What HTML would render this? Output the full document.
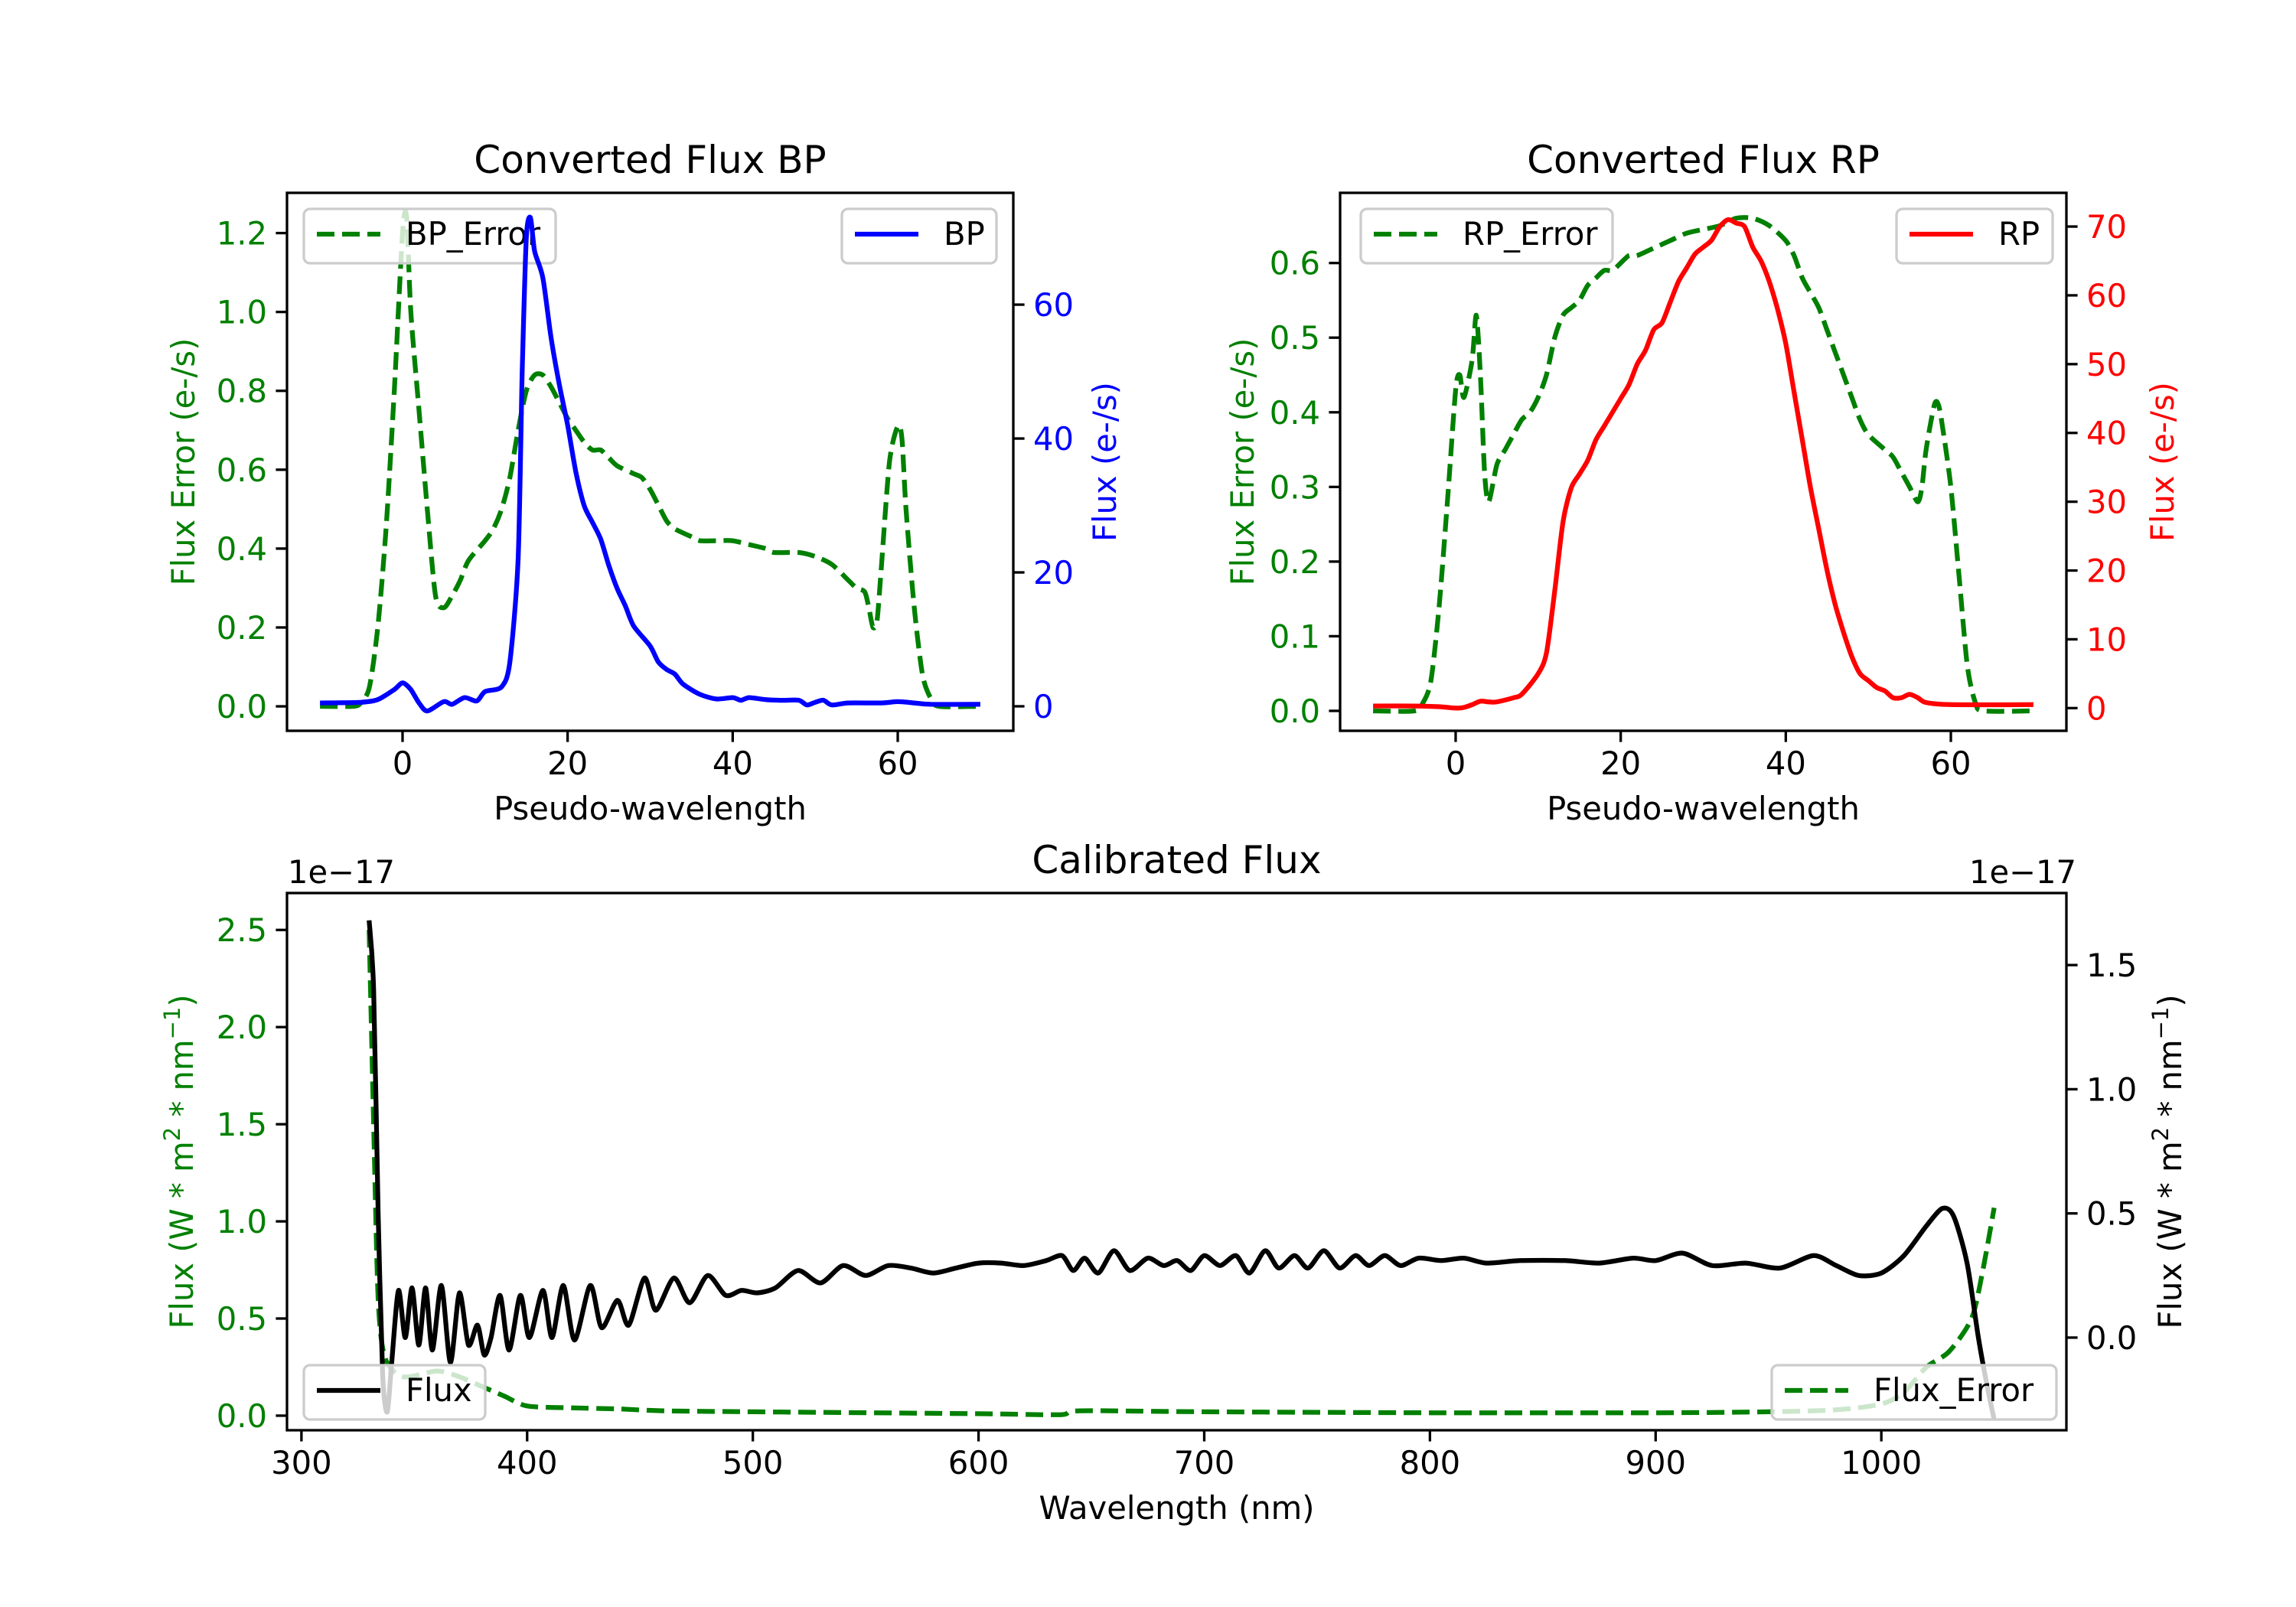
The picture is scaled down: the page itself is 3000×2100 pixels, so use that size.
<!DOCTYPE html>
<html><head><meta charset="utf-8"><style>
html,body{margin:0;padding:0;background:#fff}
svg{display:block}
text{font-family:"DejaVu Sans","Liberation Sans",sans-serif}
</style></head><body>
<svg id="fig" xmlns="http://www.w3.org/2000/svg" width="3000" height="2100" viewBox="0 0 3000 2100"></svg>
<script>
// ---------- DATA ----------
const bpX = [-10,-5,-3,-1,0,1,2,3,5,6,7.5,9,10,12,13,14,14.5,15,15.5,16,17,18,19,20,21,22,23,24,25,26,27,28,30,31,32,33,34,36,38,40,41,42,44,46,48,49,50,51,52,54,58,60,62,64,70];
const bpFlux = [0.5,0.6,1,2.5,3.5,2.5,0.5,-0.7,0.7,0.3,1.3,0.8,2.2,2.9,6.6,22,50,70,73,68,64,55,48,42,35,30,27.5,25,21,17.6,15,12,9,6.6,5.5,4.8,3.3,1.8,1.1,1.3,0.9,1.3,1.0,0.9,0.9,0.2,0.6,0.9,0.2,0.5,0.5,0.7,0.5,0.3,0.3];
const bpErrX = [-10,-6,-5,-4,-3,-2,-1,0,0.5,1,2,3,4,5,6,7,8,10,11,12,13,14,15,16,17,18,19,20,21,22,23,24,25,26,28,29,30,31,32,33,35,36,38,40,42,44,45,48,50,52,54,55,56,56.5,57,57.5,58,59,60,60.5,61,62,63,64,65,70];
const bpErr = [0,0,0.01,0.05,0.2,0.45,0.8,1.2,1.24,1.0,0.75,0.5,0.28,0.25,0.28,0.32,0.37,0.42,0.45,0.5,0.58,0.7,0.8,0.84,0.84,0.81,0.77,0.73,0.70,0.67,0.65,0.65,0.63,0.61,0.59,0.58,0.55,0.51,0.47,0.45,0.43,0.42,0.42,0.42,0.41,0.40,0.39,0.39,0.38,0.36,0.32,0.30,0.29,0.25,0.20,0.22,0.35,0.62,0.71,0.68,0.5,0.25,0.08,0.02,0,0];
const rpX = [-10,-5,-2,0,1,2,3,4,5,7,8,10,11,12,13,14,15,16,17,18,19,20,21,22,23,24,25,26,27,28,29,30,31,32,33,34,35,36,37,38,39,40,41,42,43,44,45,46,47,48,49,50,51,52,53,54,55,56,57,60,70];
const rpFlux = [0.3,0.3,0.2,0,0.1,0.5,1,0.9,0.9,1.5,2,5,8,17,27,32,34,36,39,41,43,45,47,50,52,55,56,59,62,64,66,67,68,70,71,70.5,70,67,65,62,58,53,46,39,32,26,20,15,11,7.5,5,4,3,2.5,1.5,1.5,2,1.5,0.8,0.5,0.5];
const rpErrX = [-10,-5,-4,-3,-2,-1,0,0.5,1,2,2.5,3,3.5,4,5,6,7,8,9,10,11,12,13,14,15,16,17,18,19,20,21,22,24,26,28,30,32,34,36,38,40,41,42,43,44,45,46,47,48,49,50,52,53,54,55,56,56.5,57,58,58.5,59,60,61,62,63,64,70];
const rpErr = [0,0,0.01,0.04,0.14,0.28,0.43,0.45,0.42,0.47,0.53,0.45,0.32,0.28,0.33,0.35,0.37,0.39,0.40,0.42,0.45,0.5,0.53,0.54,0.55,0.57,0.58,0.59,0.59,0.60,0.61,0.61,0.62,0.63,0.64,0.645,0.65,0.66,0.66,0.65,0.63,0.61,0.58,0.56,0.54,0.51,0.48,0.45,0.42,0.39,0.37,0.35,0.34,0.32,0.30,0.28,0.30,0.35,0.41,0.41,0.38,0.30,0.18,0.06,0.01,0,0];
const calX = [330,332,334,336,338,340,343,346,349,352,355,358,362,366,370,374,378,381,384,388,392,397,401,407,411,416,421,428,433,440,445,452,457,465,472,480,488,495,502,510,520,530,540,550,560,570,580,590,600,610,620,630,637,642,647,653,660,667,675,682,688,694,700,707,714,720,727,733,740,746,753,760,767,773,780,787,795,805,815,825,840,860,875,890,900,912,925,940,955,970,980,990,1000,1010,1020,1027,1032,1038,1043,1047,1050];
const calFlux = [1.68,1.4,0.5,-0.15,-0.3,-0.1,0.19,0.0,0.2,-0.03,0.2,-0.05,0.21,-0.1,0.18,-0.03,0.05,-0.07,0.0,0.17,-0.05,0.17,0.0,0.19,0.0,0.21,-0.01,0.21,0.04,0.15,0.05,0.24,0.11,0.24,0.14,0.25,0.17,0.19,0.18,0.20,0.27,0.22,0.29,0.25,0.29,0.28,0.26,0.28,0.30,0.30,0.29,0.31,0.33,0.27,0.32,0.26,0.35,0.27,0.32,0.29,0.31,0.27,0.33,0.29,0.33,0.26,0.35,0.28,0.33,0.28,0.35,0.28,0.33,0.29,0.33,0.29,0.32,0.31,0.32,0.30,0.31,0.31,0.30,0.32,0.31,0.34,0.29,0.30,0.28,0.33,0.29,0.25,0.26,0.33,0.45,0.52,0.49,0.3,0.0,-0.2,-0.33];
const calErrX = [330,332,334,337,345,360,370,380,390,400,420,440,460,500,600,636,645,700,800,900,950,980,1000,1010,1020,1030,1040,1045,1050];
const calErr = [2.5,1.5,0.6,0.3,0.2,0.23,0.2,0.15,0.1,0.05,0.04,0.035,0.025,0.02,0.01,0.005,0.025,0.02,0.015,0.015,0.02,0.03,0.06,0.12,0.25,0.33,0.5,0.75,1.07];
const pseudoTicks = [0,20,40,60];
const bpErrTicks = ["0.0","0.2","0.4","0.6","0.8","1.0","1.2"];
const bpFluxTicks = [0,20,40,60];
const rpErrTicks = ["0.0","0.1","0.2","0.3","0.4","0.5","0.6"];
const rpFluxTicks = [0,10,20,30,40,50,60,70];
const wlTicks = [300,400,500,600,700,800,900,1000];
const calErrTicks = ["0.0","0.5","1.0","1.5","2.0","2.5"];
const calFluxTicks = ["0.0","0.5","1.0","1.5"];

// ---------- HELPERS ----------
const NS="http://www.w3.org/2000/svg";
const fig=document.getElementById('fig');
function mk(tag,attrs,parent){const e=document.createElementNS(NS,tag);for(const k in attrs)e.setAttribute(k,attrs[k]);(parent||fig).appendChild(e);return e;}
function txt(s,attrs,parent){const e=mk('text',attrs,parent);e.textContent=s;return e;}
function lin(d0,d1,p0,p1){return v=>p0+(v-d0)/(d1-d0)*(p1-p0);}
const FS=41.7;

function path(xs,ys,sx,sy,stroke,dash,name,g){
  const P=xs.map((x,i)=>[sx(x),sy(ys[i])]);
  let d='M'+P[0][0].toFixed(1)+','+P[0][1].toFixed(1);
  const k=1/6*0.8;
  for(let i=0;i<P.length-1;i++){
    const p0=P[Math.max(0,i-1)],p1=P[i],p2=P[i+1],p3=P[Math.min(P.length-1,i+2)];
    const c1=[p1[0]+(p2[0]-p0[0])*k,p1[1]+(p2[1]-p0[1])*k];
    const c2=[p2[0]-(p3[0]-p1[0])*k,p2[1]-(p3[1]-p1[1])*k];
    d+='C'+c1[0].toFixed(1)+','+c1[1].toFixed(1)+' '+c2[0].toFixed(1)+','+c2[1].toFixed(1)+' '+p2[0].toFixed(1)+','+p2[1].toFixed(1);
  }
  const p=mk('path',{d:d,fill:'none',stroke:stroke,'stroke-width':6.25,'stroke-linejoin':'round','stroke-dasharray':dash||'none'},g);
  
  
  return p;
}
function xTicks(vals,sx,bottom,g){
  vals.forEach(v=>{const x=sx(+v);
    const t=mk('line',{x1:x,x2:x,y1:bottom,y2:bottom+14.6,stroke:'#000','stroke-width':3.3},g);
    
    
    const l=txt(String(v),{x:x,y:bottom+57,'font-size':FS,'text-anchor':'middle',fill:'#000'},g);
    
    
  });
}
function yTicks(vals,sy,xEdge,side,color,g){
  vals.forEach(v=>{const y=sy(+v);
    const dx=side<0?-14.6:14.6;
    const t=mk('line',{x1:xEdge,x2:xEdge+dx,y1:y,y2:y,stroke:'#000','stroke-width':3.3},g);
    
    
    const l=txt(String(v),{x:xEdge+(side<0?-26:26),y:y+15,'font-size':FS,'text-anchor':side<0?'end':'start',fill:color},g);
    
    
  });
}
function frame(L,T,R,B,g){
  const r=mk('rect',{x:L,y:T,width:R-L,height:B-T,fill:'none',stroke:'#000','stroke-width':3.3},g);
  
  
}
function legend(x,y,w,label,color,dash,name,g){
  const lg=mk('g',{},g);
  
  
  mk('rect',{x:x,y:y,width:w,height:71,rx:8,fill:'#fff','fill-opacity':0.8,stroke:'#cccccc','stroke-width':3.3},lg);
  mk('line',{x1:x+17,x2:x+100,y1:y+33,y2:y+33,stroke:color,'stroke-width':6.25,'stroke-dasharray':dash||'none'},lg);
  txt(label,{x:x+133,y:y+47,'font-size':FS,fill:'#000'},lg);
}
function label(s,x,y,rot,color,name,size,g){
  const t=txt(s,{x:x,y:y,'font-size':size||FS,'text-anchor':'middle',fill:color,transform:rot?`rotate(-90 ${x} ${y})`:''},g);
  
  
  return t;
}
const DASH='23 10';

// ---------- PANEL BP ----------
(function(){
  const g=mk('g',{});
  
  
  const L=375,R=1324,T=252,B=955;
  const sx=lin(-14,74,L,R), sy1=lin(-0.062,1.302,B,T), sy2=lin(-3.66,76.7,B,T);
  path(bpErrX,bpErr,sx,sy1,'#008000',DASH,'bp-error-line',g);
  legend(397,273,329,'BP_Error','#008000',DASH,'bp-error-legend',g);
  path(bpX,bpFlux,sx,sy2,'#0000ff',null,'bp-flux-line',g);
  legend(1100,273,202,'BP','#0000ff',null,'bp-legend',g);
  frame(L,T,R,B,g);
  xTicks(pseudoTicks,sx,B,g);
  yTicks(bpErrTicks,sy1,L,-1,'#008000',g);
  yTicks(bpFluxTicks,sy2,R,1,'#0000ff',g);
  label('Converted Flux BP',(L+R)/2,226,false,'#000','bp-title',50,g);
  label('Pseudo-wavelength',(L+R)/2,1071,false,'#000','bp-x-axis-title',null,g);
  label('Flux Error (e-/s)',254,(T+B)/2,true,'#008000','bp-left-y-axis-title',null,g);
  label('Flux (e-/s)',1458,(T+B)/2,true,'#0000ff','bp-right-y-axis-title',null,g);
})();

// ---------- PANEL RP ----------
(function(){
  const g=mk('g',{});
  
  
  const L=1751,R=2700,T=252,B=955;
  const sx=lin(-14,74,L,R), sy1=lin(-0.0267,0.694,B,T), sy2=lin(-3.3,74.9,B,T);
  path(rpErrX,rpErr,sx,sy1,'#008000',DASH,'rp-error-line',g);
  legend(1778,273,329,'RP_Error','#008000',DASH,'rp-error-legend',g);
  path(rpX,rpFlux,sx,sy2,'#ff0000',null,'rp-flux-line',g);
  legend(2478,273,204,'RP','#ff0000',null,'rp-legend',g);
  frame(L,T,R,B,g);
  xTicks(pseudoTicks,sx,B,g);
  yTicks(rpErrTicks,sy1,L,-1,'#008000',g);
  yTicks(rpFluxTicks,sy2,R,1,'#ff0000',g);
  label('Converted Flux RP',(L+R)/2,226,false,'#000','rp-title',50,g);
  label('Pseudo-wavelength',(L+R)/2,1071,false,'#000','rp-x-axis-title',null,g);
  label('Flux Error (e-/s)',1638,(T+B)/2,true,'#008000','rp-left-y-axis-title',null,g);
  label('Flux (e-/s)',2840,(T+B)/2,true,'#ff0000','rp-right-y-axis-title',null,g);
})();

// ---------- PANEL CALIBRATED ----------
(function(){
  const g=mk('g',{});
  
  
  const L=375,R=2700,T=1167,B=1869;
  const sx=lin(293.6,1082,L,R), sy1=lin(-0.075,2.69,B,T), sy2=lin(-0.373,1.79,B,T);
  path(calErrX,calErr,sx,sy1,'#008000',DASH,'flux-error-line',g);
  path(calX,calFlux,sx,sy2,'#000000',null,'flux-line',g);
  legend(397,1784,237,'Flux','#000',null,'flux-legend',g);
  legend(2315,1784,372,'Flux_Error','#008000',DASH,'flux-error-legend',g);
  frame(L,T,R,B,g);
  xTicks(wlTicks,sx,B,g);
  yTicks(calErrTicks,sy1,L,-1,'#008000',g);
  yTicks(calFluxTicks,sy2,R,1,'#000',g);
  label('Calibrated Flux',(L+R)/2,1141,false,'#000','calibrated-title',50,g);
  label('Wavelength (nm)',(L+R)/2,1985,false,'#000','wavelength-axis-title',null,g);
  label('1e\u221217',446,1154,false,'#000','left-offset-label',null,g);
  label('1e\u221217',2643,1154,false,'#000','right-offset-label',null,g);
  const lt=label('',252,(T+B)/2,true,'#008000','flux-left-y-axis-title',null,g);
  lt.innerHTML='Flux (W * m<tspan baseline-shift="super" font-size="29">2</tspan> * nm<tspan baseline-shift="super" font-size="29">\u22121</tspan>)';
  const rt=label('',2850,(T+B)/2,true,'#000','flux-right-y-axis-title',null,g);
  rt.innerHTML='Flux (W * m<tspan baseline-shift="super" font-size="29">2</tspan> * nm<tspan baseline-shift="super" font-size="29">\u22121</tspan>)';
})();
</script>
</body></html>
